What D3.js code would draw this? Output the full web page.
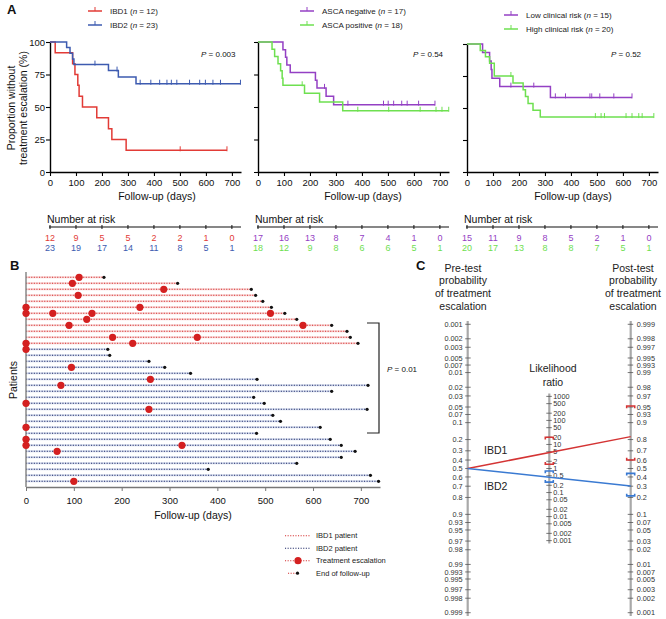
<!DOCTYPE html>
<html><head><meta charset="utf-8">
<script src="https://cdnjs.cloudflare.com/ajax/libs/d3/7.8.5/d3.min.js"></script>
<style>body{margin:0;background:#fff} svg{display:block}</style>
</head><body>
<svg id="chart" width="666" height="619"></svg>
<script>
const FONT = '"Liberation Sans", Arial, Helvetica, sans-serif';
const svg = d3.select("#chart").attr("font-family", FONT);

// ---------------- Panel A data ----------------
const dayTicks = [0,100,200,300,400,500,600,700];
const pctTicks = [0,25,50,75,100];

const ibd1Times = [0,20,87,96,107,112,125,180,225,238,293];
const ibd1Surv  = [100,91.7,83.3,75,66.7,58.3,50,41.7,33.3,25,16.7];
const ibd1Censor = [501,681];
const ibd1End = 681;

const ibd2Times = [0,64,77,87,92,225,263,331];
const ibd2Surv  = [100,95.7,91.3,87.0,82.6,78.0,73.1,67.9];
const ibd2Censor = [173,258,347,388,422,450,467,488,537,576,598,627,656,733];
const ibd2End = 733;

const ascaNegTimes = [0,96,106,111,124,221,227,262,291];
const ascaNegSurv  = [100,94.1,88.2,82.4,76.5,70.6,64.7,58.2,51.8];
const ascaNegCensor = [256,346,483,501,522,553,574,618,681];
const ascaNegEnd = 681;

const ascaPosTimes = [0,54,64,77,87,93,96,179,237,326];
const ascaPosSurv  = [100,94.4,88.9,83.3,77.8,72.2,66.7,60.6,53.9,47.1];
const ascaPosCensor = [170,384,503,624,685,708,734];
const ascaPosEnd = 734;

const lowRiskTimes = [0,60,87,93,96,126,321];
const lowRiskSurv  = [100,93.3,86.7,80,73.3,66.7,58.3];
const lowRiskCensor = [169,257,340,379,473,480,511,565,635];
const lowRiskEnd = 635;

const highRiskTimes = [0,51,71,87,105,177,216,225,235,254,282];
const highRiskSurv  = [100,95,90,85,75,69.6,64.3,58.9,53.6,48.2,42.9];
const highRiskCensor = [169,494,516,529,612,635,661,674,719];
const highRiskEnd = 719;

const riskIBD1 = [12,9,5,5,2,2,1,0];
const riskIBD2 = [23,19,17,14,11,8,5,1];
const riskAscaNeg = [17,16,13,8,7,4,1,0];
const riskAscaPos = [18,12,9,8,6,6,5,1];
const riskLow = [15,11,9,8,5,2,1,0];
const riskHigh = [20,17,13,8,8,7,5,1];

// ---------------- Panel B data ----------------
const patientGroup = [1,1,1,1,1,1,1,1,1,1,1,1, 2,2,2,2,2,2,2,2,2,2,2,2,2,2,2,2,2,2,2,2,2,2,2];
const followEnd = [163,317,471,480,495,513,541,566,639,671,678,694,
                   171,175,257,290,344,483,715,639,476,498,713,516,532,615,482,636,659,688,659,566,381,720,737];
const escRow = [1,2,3,4,6,6,7,7,7,7,8,9,9,11,11,12,12,13,16,18,19,22,23,26,28,29,29,30,35];
const escDay = [111,97,288,109,0,238,0,56,138,511,127,90,579,181,358,0,223,0,95,260,73,0,257,0,0,0,326,65,100];

// ---------------- Panel C data ----------------
const probTicks = [0.001,0.002,0.003,0.005,0.007,0.01,0.02,0.03,0.05,0.07,0.1,0.2,0.3,0.4,0.5,0.6,0.7,0.8,0.9,0.93,0.95,0.97,0.98,0.99,0.993,0.995,0.997,0.998,0.999];
const lrTicks = [1000,500,200,100,50,20,10,5,2,1,0.5,0.2,0.1,0.05,0.02,0.01,0.005,0.002,0.001];
const pretestProb = 0.5;
const groupNames = ["IBD1","IBD2"];
const groupLR = [4.6, 0.43];
const groupLRLow = [1.5, 0.27];
const groupLRHigh = [20, 0.79];

// ---------------- helpers ----------------
function txt(g, x, y, s, size, anchor, opts={}) {
  const t = g.append("text").attr("x",x).attr("y",y).attr("font-size",size)
    .attr("text-anchor",anchor||"start").attr("fill",opts.fill||"#111");
  if (opts.weight) t.attr("font-weight",opts.weight);
  if (opts.style) t.attr("font-style",opts.style);
  if (opts.transform) t.attr("transform",opts.transform);
  t.text(s);
  return t;
}
function survAt(times, surv, t){ let v=surv[0]; for(let i=0;i<times.length;i++) if(times[i]<=t) v=surv[i]; return v; }

// ---------------- Panel A ----------------
txt(svg, 7, 14, "A", 13, "start", {weight:"bold"});

function drawKM(o) {
  const g = svg.append("g");
  const x = d3.scaleLinear().domain([0,735]).range([o.x0, o.x0+191]);
  const y = d3.scaleLinear().domain([0,100]).range([172, o.yTop]);
  const ya = d3.axisLeft(y).tickValues(pctTicks).tickSize(4).tickSizeOuter(0).tickPadding(1);
  if (!o.yLabels) ya.tickFormat("");
  const gy = g.append("g").attr("transform",`translate(${o.x0},0)`).call(ya);
  const xa = d3.axisBottom(x).tickValues(dayTicks).tickSize(4).tickSizeOuter(0).tickPadding(3);
  const gx = g.append("g").attr("transform","translate(0,172)").call(xa);
  [gx,gy].forEach(a=>{
    a.attr("font-family",FONT).attr("font-size",9.5);
    a.select(".domain").attr("stroke","#000").attr("stroke-width",1.4);
    a.selectAll(".tick line").attr("stroke","#000").attr("stroke-width",1.1);
    a.selectAll(".tick text").attr("fill","#111");
  });
  const line = d3.line().x(d=>x(d[0])).y(d=>y(d[1])).curve(d3.curveStepAfter);
  o.series.forEach(s=>{
    const pts = s.times.map((t,i)=>[t,s.surv[i]]);
    pts.push([s.end, s.surv[s.surv.length-1]]);
    g.append("path").attr("d",line(pts)).attr("fill","none").attr("stroke",s.color).attr("stroke-width",1.5);
    g.selectAll(null).data(s.censor).enter().append("line")
      .attr("x1",d=>x(d)).attr("x2",d=>x(d))
      .attr("y1",d=>y(survAt(s.times,s.surv,d))-4).attr("y2",d=>y(survAt(s.times,s.surv,d))+1)
      .attr("stroke",s.color).attr("stroke-width",1);
  });
  // legend
  o.series.forEach((s,i)=>{
    const ly = o.legY + i*14;
    g.append("line").attr("x1",o.legX).attr("x2",o.legX+14).attr("y1",ly).attr("y2",ly).attr("stroke",s.color).attr("stroke-width",1.5);
    g.append("line").attr("x1",o.legX+7).attr("x2",o.legX+7).attr("y1",ly-4).attr("y2",ly).attr("stroke",s.color).attr("stroke-width",1);
    const t = g.append("text").attr("x",o.legX+22).attr("y",ly+3).attr("font-size",8).attr("fill","#222");
    t.append("tspan").text(s.label+" (");
    t.append("tspan").attr("font-style","italic").text("n");
    t.append("tspan").text(" = "+s.n+")");
  });
  // P value
  const pt = g.append("text").attr("x",o.pX).attr("y",57).attr("font-size",8).attr("fill","#111");
  pt.append("tspan").attr("font-style","italic").text("P");
  pt.append("tspan").text(" = "+o.p);
  // axis title
  txt(g, o.xLabelX, 200, "Follow-up (days)", 10.5, "middle");
  // number at risk
  txt(g, o.x0-3, 223, "Number at risk", 10.5, "start");
  g.append("line").attr("x1",x(0)-1).attr("x2",x(735)).attr("y1",227).attr("y2",227).attr("stroke","#111").attr("stroke-width",1.1);
  g.selectAll(null).data(dayTicks).enter().append("line")
    .attr("x1",d=>x(d)).attr("x2",d=>x(d)).attr("y1",225).attr("y2",229).attr("stroke","#111").attr("stroke-width",1);
  o.series.forEach((s,i)=>{
    g.selectAll(null).data(s.risk).enter().append("text")
      .attr("x",(d,j)=>x(dayTicks[j])).attr("y",240.5+i*10).attr("text-anchor","middle")
      .attr("font-size",9).attr("fill",s.color).text(d=>d);
  });
}

const cRed="#e23b36", cBlue="#3d5bb0", cPurple="#9440c4", cGreen="#6ee050";

drawKM({x0:50, yTop:42, yLabels:true, legX:88, legY:11, pX:201, p:"0.003", xLabelX:157,
  series:[
    {label:"IBD1", n:12, color:cRed, times:ibd1Times, surv:ibd1Surv, censor:ibd1Censor, end:ibd1End, risk:riskIBD1},
    {label:"IBD2", n:23, color:cBlue, times:ibd2Times, surv:ibd2Surv, censor:ibd2Censor, end:ibd2End, risk:riskIBD2}]});
drawKM({x0:258, yTop:42, yLabels:false, legX:300, legY:11, pX:413, p:"0.54", xLabelX:363,
  series:[
    {label:"ASCA negative", n:17, color:cPurple, times:ascaNegTimes, surv:ascaNegSurv, censor:ascaNegCensor, end:ascaNegEnd, risk:riskAscaNeg},
    {label:"ASCA positive", n:18, color:cGreen, times:ascaPosTimes, surv:ascaPosSurv, censor:ascaPosCensor, end:ascaPosEnd, risk:riskAscaPos}]});
drawKM({x0:467, yTop:44, yLabels:false, legX:504, legY:15, pX:611, p:"0.52", xLabelX:573,
  series:[
    {label:"Low clinical risk", n:15, color:cPurple, times:lowRiskTimes, surv:lowRiskSurv, censor:lowRiskCensor, end:lowRiskEnd, risk:riskLow},
    {label:"High clinical risk", n:20, color:cGreen, times:highRiskTimes, surv:highRiskSurv, censor:highRiskCensor, end:highRiskEnd, risk:riskHigh}]});

// y label panel A
txt(svg, 0, 0, "Proportion without", 10.5, "middle", {transform:"translate(14.5,108) rotate(-90)"});
txt(svg, 0, 0, "treatment escalation (%)", 10.5, "middle", {transform:"translate(26.5,108) rotate(-90)"});

// ---------------- Panel B ----------------
txt(svg, 10, 270, "B", 13, "start", {weight:"bold"});
const gB = svg.append("g");
const xB = d3.scaleLinear().domain([0,740]).range([26,380]);
const yB = d3.scaleLinear().domain([1,35]).range([277.3,481.3]);
const cBRed="#d42e2e", cBNavy="#1b2665";
followEnd.forEach((e,i)=>{
  const yy = yB(i+1);
  const col = patientGroup[i]===1 ? cBRed : cBNavy;
  const halo = patientGroup[i]===1 ? "#f4b8b8" : "#b9c6e4";
  gB.append("line").attr("x1",xB(0)).attr("x2",xB(e)).attr("y1",yy).attr("y2",yy).attr("stroke",halo).attr("stroke-width",2).attr("opacity",0.6);
  gB.append("line").attr("x1",xB(0)).attr("x2",xB(e)).attr("y1",yy).attr("y2",yy).attr("stroke",col).attr("stroke-width",1.1).attr("stroke-dasharray","1.1,1.5");
});
// axes
const xaB = d3.axisBottom(xB).tickValues(dayTicks).tickSize(4).tickSizeOuter(0).tickPadding(6);
const gxB = gB.append("g").attr("transform","translate(0,487)").call(xaB);
gxB.attr("font-family",FONT).attr("font-size",9.5);
gxB.select(".domain").attr("stroke","#777").attr("stroke-width",1.4);
gxB.selectAll(".tick line").attr("stroke","#777");
gxB.selectAll(".tick text").attr("fill","#111");
gB.append("line").attr("x1",26).attr("x2",26).attr("y1",272).attr("y2",487).attr("stroke","#888").attr("stroke-width",1.5);
// end dots
followEnd.forEach((e,i)=>{
  gB.append("circle").attr("cx",xB(e)).attr("cy",yB(i+1)).attr("r",1.6).attr("fill","#111");
});
// escalation dots
escRow.forEach((r,i)=>{
  gB.append("circle").attr("cx",xB(escDay[i])).attr("cy",yB(r)).attr("r",3.6).attr("fill","#d42020");
});
txt(gB, 193, 519, "Follow-up (days)", 10.5, "middle");
txt(gB, 0, 0, "Patients", 10.5, "middle", {transform:"translate(16.5,380) rotate(-90)"});
// bracket
gB.append("path").attr("d","M367,323H379V433H367").attr("fill","none").attr("stroke","#222").attr("stroke-width",1.2);
const pB = gB.append("text").attr("x",387).attr("y",372).attr("font-size",8).attr("fill","#111");
pB.append("tspan").attr("font-style","italic").text("P");
pB.append("tspan").text(" = 0.01");
// legend B
const legB = [
  {label:"IBD1 patient", col:cBRed, x1:285, x2:311},
  {label:"IBD2 patient", col:cBNavy, x1:285, x2:311},
  {label:"Treatment escalation", col:cBRed, x1:285, x2:311, esc:true},
  {label:"End of follow-up", col:cBRed, x1:288, x2:297, end:true}];
legB.forEach((d,i)=>{
  const ly = 535.7 + i*12.5;
  gB.append("line").attr("x1",d.x1).attr("x2",d.x2).attr("y1",ly).attr("y2",ly).attr("stroke",d.col).attr("stroke-width",1.1).attr("stroke-dasharray","1.1,1.5");
  if (d.esc) gB.append("circle").attr("cx",298).attr("cy",ly).attr("r",3.6).attr("fill","#d42020");
  if (d.end) gB.append("circle").attr("cx",297.5).attr("cy",ly).attr("r",1.6).attr("fill","#111");
  txt(gB, 316, ly+2.7, d.label, 7.5, "start", {fill:"#222"});
});

// ---------------- Panel C ----------------
txt(svg, 416, 270, "C", 13, "start", {weight:"bold"});
const gC = svg.append("g");
const logit = p => Math.log(p/(1-p));
const xL = 467.7, xM = 549.3, xR = 630.7;
const preScale = d3.scaleLinear().domain([logit(0.001), logit(0.999)]).range([324.3, 612.7]);
const postScale = d3.scaleLinear().domain([logit(0.001), logit(0.999)]).range([612.7, 324.3]);
const halfSpan = (612.7-324.3)/2/logit(0.999)/2*Math.log(1000);
const midY = (324.3+612.7)/2;
const lrScale = d3.scaleLog().domain([0.001,1000]).range([midY+halfSpan, midY-halfSpan]);
const axCol = "#a9a9a9";
gC.append("line").attr("x1",xL).attr("x2",xL).attr("y1",321).attr("y2",616).attr("stroke",axCol).attr("stroke-width",2.2);
gC.append("line").attr("x1",xR).attr("x2",xR).attr("y1",321).attr("y2",616).attr("stroke",axCol).attr("stroke-width",2.2);
gC.append("line").attr("x1",xM).attr("x2",xM).attr("y1",393.5).attr("y2",543.5).attr("stroke",axCol).attr("stroke-width",2.2);
const tickF = d => String(d);
const tfs = 7.3;
probTicks.forEach(p=>{
  const yl = preScale(logit(p)), yr = postScale(logit(p));
  gC.append("line").attr("x1",xL-2.5).attr("x2",xL+3).attr("y1",yl).attr("y2",yl).attr("stroke","#555").attr("stroke-width",0.8);
  txt(gC, xL-5, yl+2.6, tickF(p), tfs, "end", {fill:"#333"});
  gC.append("line").attr("x1",xR-3).attr("x2",xR+2.5).attr("y1",yr).attr("y2",yr).attr("stroke","#555").attr("stroke-width",0.8);
  txt(gC, xR+6, yr+2.6, tickF(p), tfs, "start", {fill:"#333"});
});
lrTicks.forEach(v=>{
  const ym = lrScale(v);
  gC.append("line").attr("x1",xM-3).attr("x2",xM+2.5).attr("y1",ym).attr("y2",ym).attr("stroke","#555").attr("stroke-width",0.8);
  txt(gC, xM+4, ym+2.6, tickF(v), tfs, "start", {fill:"#333"});
});
// titles
["Pre-test","probability","of treatment","escalation"].forEach((s,i)=> txt(gC, 463, 271.5+i*12.7, s, 10.5, "middle", {fill:"#222"}));
["Post-test","probability","of treatment","escalation"].forEach((s,i)=> txt(gC, 633, 271.5+i*12.7, s, 10.5, "middle", {fill:"#222"}));
txt(gC, 553, 372, "Likelihood", 10.5, "middle", {fill:"#222"});
txt(gC, 553, 385.5, "ratio", 10.5, "middle", {fill:"#222"});
// lines
const postOf = lr => { const o = lr*pretestProb/(1-pretestProb); return o/(1+o); };
const gCols = ["#d43434","#3a7ad2"];
groupLR.forEach((lr,i)=>{
  gC.append("line").attr("x1",xL).attr("y1",preScale(logit(pretestProb)))
    .attr("x2",xR).attr("y2",postScale(logit(postOf(lr))))
    .attr("stroke",gCols[i]).attr("stroke-width",1.5);
});
function bracket(x, y, dir, col) {
  gC.append("path").attr("d",`M${x-4},${y+2.2*dir}V${y}H${x+4}V${y+2.2*dir}`)
    .attr("fill","none").attr("stroke",col).attr("stroke-width",1.6);
}
groupLR.forEach((lr,i)=>{
  bracket(xM, lrScale(groupLRHigh[i]), 1, gCols[i]);
  bracket(xM, lrScale(groupLRLow[i]), -1, gCols[i]);
  bracket(xR, postScale(logit(postOf(groupLRHigh[i]))), 1, gCols[i]);
  bracket(xR, postScale(logit(postOf(groupLRLow[i]))), -1, gCols[i]);
});
txt(gC, 484, 454, groupNames[0], 10.5, "start", {fill:"#222"});
txt(gC, 484, 490, groupNames[1], 10.5, "start", {fill:"#222"});
</script>
</body></html>
